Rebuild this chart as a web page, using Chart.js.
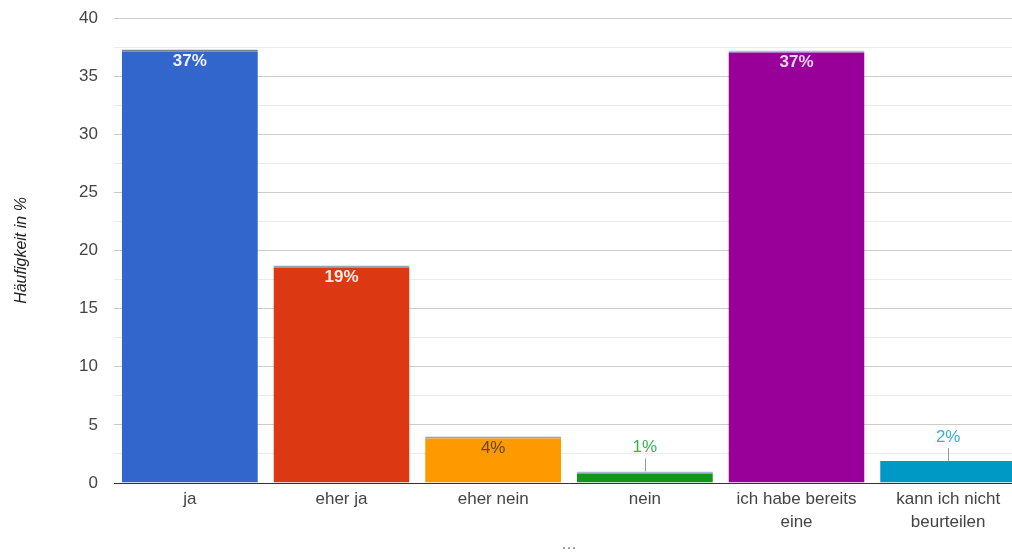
<!DOCTYPE html>
<html>
<head>
<meta charset="utf-8">
<script src="https://cdn.jsdelivr.net/npm/chart.js@4/dist/chart.umd.min.js"></script>
<style>
html,body{margin:0;padding:0;background:#fff;overflow:hidden;width:1012px;height:554px;}
#wrap{position:absolute;left:0;top:0;width:1026px;height:554px;}
</style>
</head>
<body>
<div id="wrap"><canvas id="c" width="1026" height="554"></canvas></div>
<script>
const categories = [["ja"], ["eher ja"], ["eher nein"], ["nein"], ["ich habe bereits", "eine"], ["kann ich nicht", "beurteilen"]];
const values = [37.3, 18.7, 4.0, 1.0, 37.2, 1.9];
const valueLabels = ["37%", "19%", "4%", "1%", "37%", "2%"];
const barColors = ["#3366cc", "#dc3912", "#ff9900", "#109618", "#990099", "#0099c6"];
const topLineColors = ["#7d8794", "#9aa4ae", "#8fa6bd", "#a9b8d6", "#8fd0e6", "#0099c6"];
const labelColors = ["#eef2fb", "#fbeee9", "#5b4a2e", "#33b34a", "#ecd6ec", "#3aaee0"];
const labelInside = [true, true, true, false, true, false];
const yTicks = [0, 5, 10, 15, 20, 25, 30, 35, 40];
const yTitle = "Häufigkeit in %";
const xTitle = "…";

const FONT = "'Liberation Sans', Arial, sans-serif";

const labelPlugin = {
  id: 'valLabels',
  afterDatasetsDraw(chart) {
    const ctx = chart.ctx;
    const meta = chart.getDatasetMeta(0);
    ctx.save();
    ctx.textAlign = 'center';
    ctx.textBaseline = 'middle';
    meta.data.forEach((bar, i) => {
      const x = bar.x, top = bar.y;
      if (labelInside[i]) {
        ctx.font = (i === 2 ? "17px " : "bold 17px ") + FONT;
        ctx.fillStyle = labelColors[i];
        ctx.fillText(valueLabels[i], x, top + 12);
      } else {
        ctx.strokeStyle = '#999';
        ctx.lineWidth = 1;
        ctx.beginPath();
        ctx.moveTo(Math.round(x) + 0.5, top - 13);
        ctx.lineTo(Math.round(x) + 0.5, top);
        ctx.stroke();
        ctx.font = "17px " + FONT;
        ctx.fillStyle = labelColors[i];
        ctx.fillText(valueLabels[i], x, top - 24);
      }
    });
    ctx.restore();
  }
};

new Chart(document.getElementById('c'), {
  type: 'bar',
  data: {
    labels: categories,
    datasets: [{
      data: values,
      backgroundColor: barColors,
      borderColor: topLineColors,
      borderWidth: {top: 2, left: 0, right: 0, bottom: 0},
      borderSkipped: false,
      barPercentage: 0.897,
      categoryPercentage: 1.0
    }]
  },
  options: {
    responsive: false,
    animation: false,
    layout: {padding: {top: 18, right: 2, bottom: 0, left: 0}},
    plugins: {legend: {display: false}, tooltip: {enabled: false}},
    scales: {
      x: {
        grid: {display: false, drawTicks: false},
        border: {display: true, color: '#333', width: 1},
        ticks: {color: '#444', font: {family: FONT, size: 17, lineHeight: 1.35}, padding: 5, maxRotation: 0, autoSkip: false},
        title: {display: true, text: xTitle, color: '#777', font: {family: FONT, size: 16}, padding: {top: 0, bottom: 0}},
        afterFit(s) { s.height = 71; s.paddingLeft = 0; s.paddingRight = 0; }
      },
      y: {
        min: 0, max: 40,
        afterBuildTicks(s) {
          const t = [];
          for (let i = 0; i < yTicks.length; i++) {
            t.push({value: yTicks[i]});
            if (i < yTicks.length - 1) t.push({value: (yTicks[i] + yTicks[i + 1]) / 2});
          }
          s.ticks = t;
        },
        grid: {
          drawTicks: false,
          color: c => (c.tick && c.tick.value === 0) ? 'rgba(0,0,0,0)' : (c.tick && c.tick.value % 5 === 0 ? '#cccccc' : '#ebebeb'),
          lineWidth: 1
        },
        border: {display: false},
        ticks: {
          color: '#444', font: {family: FONT, size: 17}, padding: 16,
          callback: v => (v % 5 === 0 ? String(v) : '')
        },
        title: {display: true, text: yTitle, color: '#222', font: {family: FONT, size: 16, style: 'italic'}, padding: {top: 12, bottom: 0}},
        afterFit(s) { s.width = 114; s.paddingTop = 0; s.paddingBottom = 0; }
      }
    }
  },
  plugins: [labelPlugin]
});
</script>
</body>
</html>
